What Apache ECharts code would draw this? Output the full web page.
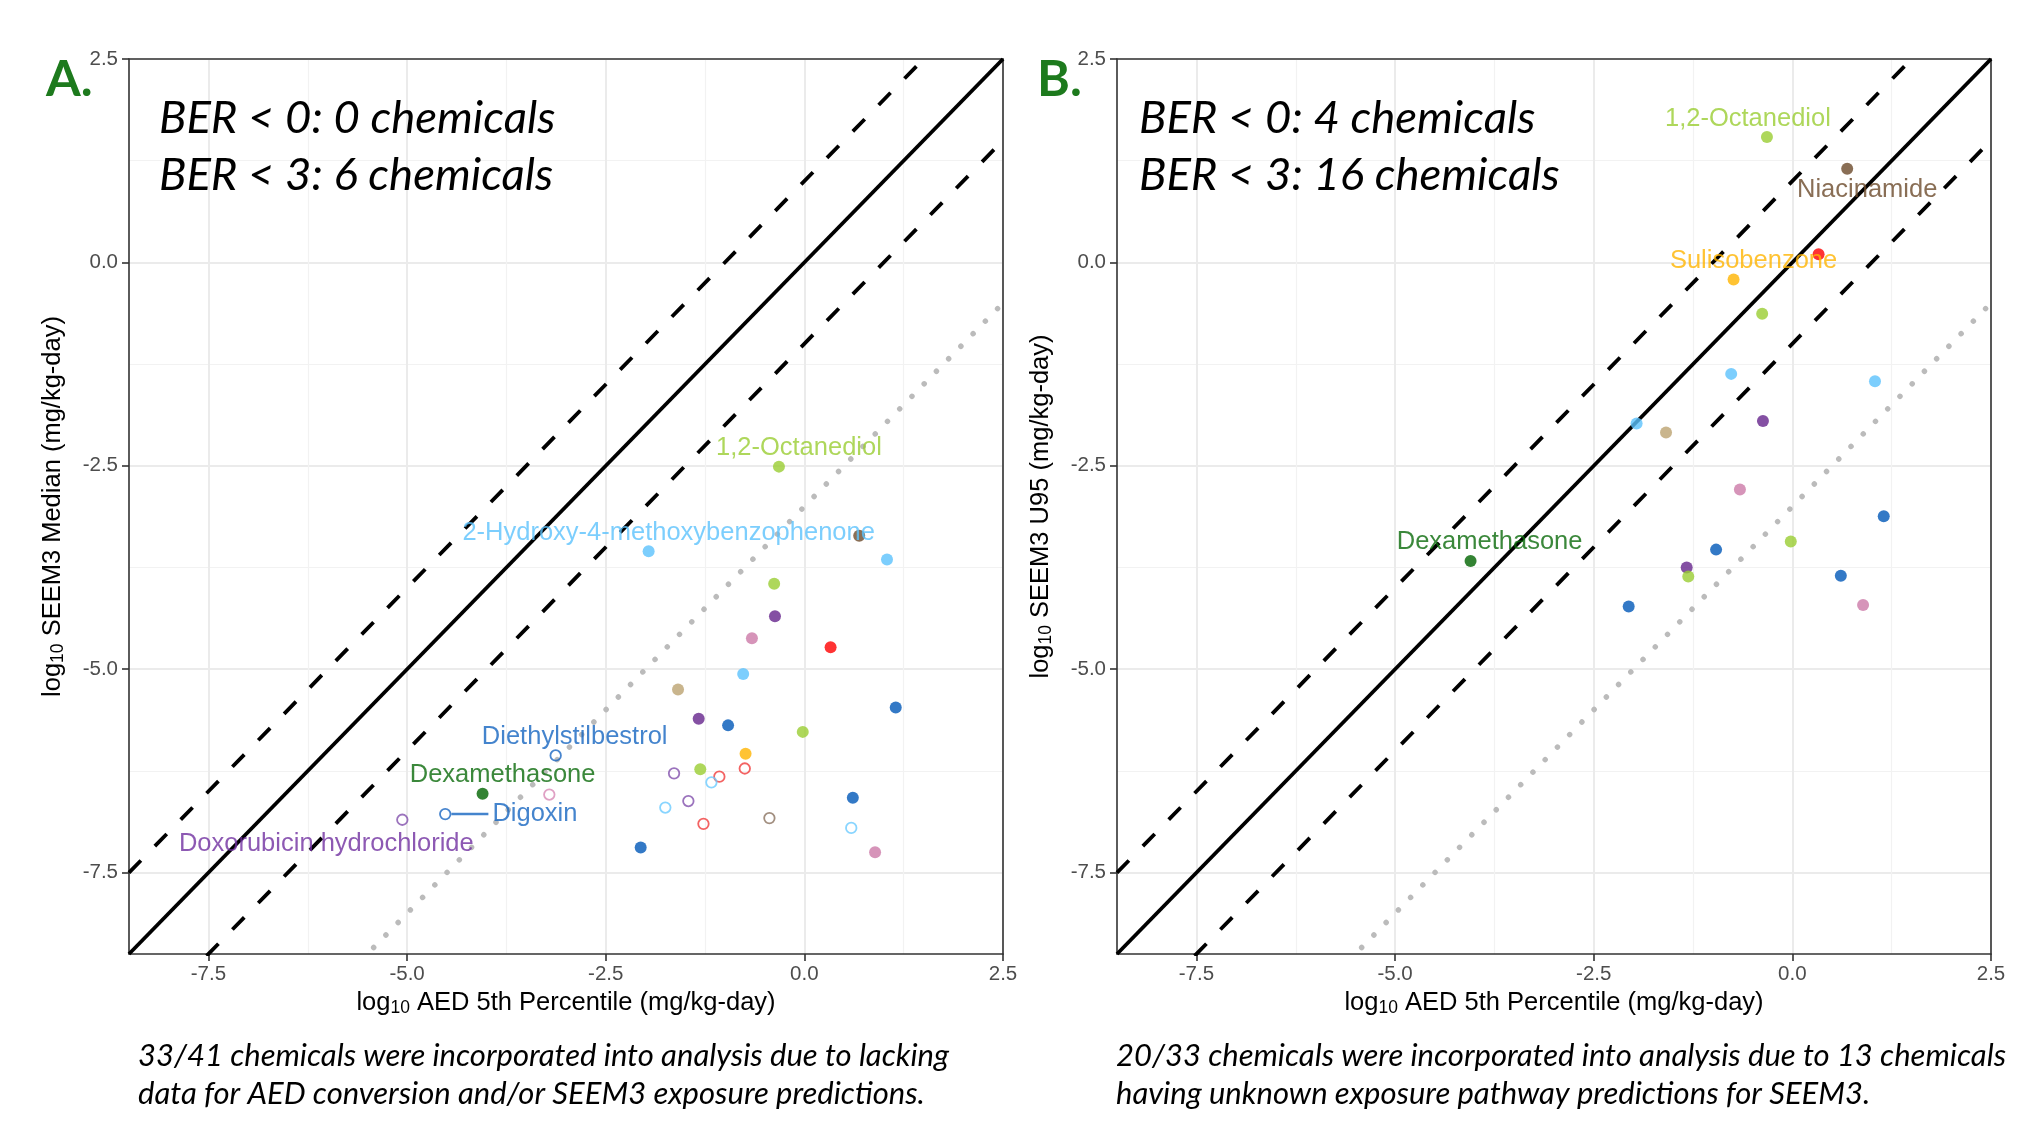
<!DOCTYPE html>
<html>
<head>
<meta charset="utf-8">
<script src="https://cdn.jsdelivr.net/npm/echarts@6/dist/echarts.min.js"></script>
<style>
html,body{margin:0;padding:0;background:#ffffff;}
#chart{width:2030px;height:1121px;}
</style>
</head>
<body>
<div id="chart"></div>
<script>
// ---------------- DATA ----------------
// Chemical names ('' = not labelled in the figure)
const chemNames = [
  '1,2-Octanediol', '2-Hydroxy-4-methoxybenzophenone', 'Niacinamide', '', '', '', '', '', '', '',
  '', '', '', '', 'Sulisobenzone', 'Diethylstilbestrol', '', '', '', '',
  '', 'Dexamethasone', '', '', '', '', 'Digoxin', '', 'Doxorubicin hydrochloride', '',
  '', '', ''
];
// log10 AED 5th percentile (mg/kg-day)
const aed5th = [
  -0.32, -1.96, 0.69, 1.04, -0.38, -0.37, -0.66, 0.33, -0.77, -1.59,
  1.15, -1.33, -0.96, -0.02, -0.74, -3.13, -0.75, -1.31, -1.64, -1.07,
  -1.17, -4.05, -3.21, 0.61, -1.46, -1.75, -4.52, -0.44, -5.06, -1.27,
  0.59, -2.06, 0.89
];
// log10 SEEM3 median (mg/kg-day)  -> panel A
const seem3Median = [
  -2.51, -3.55, -3.36, -3.65, -3.95, -4.35, -4.62, -4.73, -5.06, -5.25,
  -5.47, -5.61, -5.69, -5.77, -6.04, -6.06, -6.22, -6.23, -6.28, -6.32,
  -6.39, -6.53, -6.54, -6.58, -6.62, -6.70, -6.78, -6.83, -6.85, -6.90,
  -6.95, -7.19, -7.25
];
// log10 SEEM3 U95 (mg/kg-day) -> panel B (null = unknown exposure pathway)
const seem3U95 = [
  1.54, -1.98, 1.15, -1.46, -0.63, -1.95, -2.79, 0.10, -1.37, -2.09,
  -3.12, -3.75, -3.53, -3.43, -0.21, null, null, -3.86, null, null,
  null, -3.67, null, -3.85, null, null, null, null, null, null,
  null, -4.23, -4.21
];
// chemical group (colour key)
const chemGroup = [
  'g1', 'g2', 'g3', 'g2', 'g1', 'g4', 'g5', 'g6', 'g2', 'g7',
  'g8', 'g4', 'g8', 'g1', 'g9', 'g8', 'g6', 'g1', 'g4', 'g6',
  'g2', 'g10', 'g5', 'g8', 'g4', 'g2', 'g8', 'g3', 'g4', 'g6',
  'g2', 'g8', 'g5'
];
const tickValues = [-7.5, -5.0, -2.5, 0.0, 2.5];
const minorTickValues = [-6.25, -3.75, -1.25, 1.25];
const axisRange = [-8.5, 2.5];
// reference lines  y = x + offset
const refOffsets = [0, 1, -1, -3];
const refKinds = ['solid', 'dashed', 'dashed', 'dotted'];
const labelledA = ['1,2-Octanediol', '2-Hydroxy-4-methoxybenzophenone', 'Diethylstilbestrol', 'Dexamethasone', 'Digoxin', 'Doxorubicin hydrochloride'];
const labelledB = ['1,2-Octanediol', 'Niacinamide', 'Sulisobenzone', 'Dexamethasone'];
const berTextA = ['BER < 0: 0 chemicals', 'BER < 3: 6 chemicals'];
const berTextB = ['BER < 0: 4 chemicals', 'BER < 3: 16 chemicals'];
const captionA = ['33/41 chemicals were incorporated into analysis due to lacking', 'data for AED conversion and/or SEEM3 exposure predictions.'];
const captionB = ['20/33 chemicals were incorporated into analysis due to 13 chemicals', 'having unknown exposure pathway predictions for SEEM3.'];

// ---------------- STYLE ----------------
const palette = {
  g1: '#9ACD32', g2: '#5BC2FD', g3: '#6B4A2B', g4: '#65248C', g5: '#CC79A7',
  g6: '#FF0000', g7: '#BCA271', g8: '#0058B8', g9: '#FFB400', g10: '#006400'
};
const hollowColor = { g8: '#1A66C2', g3: '#8B7360', g4: '#8250AC', g5: '#D88AB5', g6: '#F03C3C', g2: '#6CCBFF' };
const labelOffsetA = {
  '1,2-Octanediol': [20, -19],
  '2-Hydroxy-4-methoxybenzophenone': [20, -18.5],
  'Diethylstilbestrol': [19, -19],
  'Dexamethasone': [20, -19],
  'Doxorubicin hydrochloride': [-76, 24]
};
const labelOffsetB = {
  '1,2-Octanediol': [-19, -18.5],
  'Niacinamide': [20, 21],
  'Sulisobenzone': [20, -19],
  'Dexamethasone': [19, -19]
};
const labelColor = { g8: '#1565C0', g4: '#7030A0', g10: '#0A6A0A' };
const FONT = '"Liberation Sans", Arial, sans-serif';
const LABEL_SIZE = 25.5;
const gridBox = [
  { left: 129, top: 59, width: 874, height: 895 },
  { left: 1117, top: 59, width: 874, height: 895 }
];

const richTitle = {
  n: { fontSize: 25.5, fontFamily: FONT, color: '#000' },
  s: { fontSize: 17.5, fontFamily: FONT, color: '#000', padding: [10, 0, 0, 0] }
};

function majorX(gi) {
  return {
    gridIndex: gi, type: 'value', min: axisRange[0], max: axisRange[1], position: 'bottom',
    name: '{n|log}{s|10}{n| AED 5th Percentile (mg/kg-day)}',
    nameLocation: 'middle', nameGap: 32,
    nameTextStyle: { rich: richTitle },
    axisLine: { show: true, onZero: false, lineStyle: { color: '#333333', width: 1.6 } },
    axisTick: { show: true, length: 7, customValues: tickValues, lineStyle: { color: '#333333', width: 1.6 } },
    axisLabel: { customValues: tickValues, formatter: v => v.toFixed(1), color: '#4D4D4D', fontSize: 20.5, fontFamily: FONT, margin: 10 },
    splitLine: { show: true, lineStyle: { color: '#EBEBEB', width: 2 } }
  };
}
function minorX(gi) {
  return {
    gridIndex: gi, type: 'value', min: axisRange[0], max: axisRange[1], position: 'top',
    axisLine: { show: true, onZero: false, lineStyle: { color: '#333333', width: 1.6 } },
    axisTick: { show: false, customValues: minorTickValues },
    axisLabel: { show: false, customValues: minorTickValues },
    splitLine: { show: true, lineStyle: { color: '#F2F2F2', width: 1.2 } }
  };
}
function majorY(gi, title) {
  return {
    gridIndex: gi, type: 'value', min: axisRange[0], max: axisRange[1], position: 'left',
    name: title, nameLocation: 'middle', nameGap: 62, nameRotate: 90,
    nameTextStyle: { rich: richTitle },
    axisLine: { show: true, onZero: false, lineStyle: { color: '#333333', width: 1.6 } },
    axisTick: { show: true, length: 7, customValues: tickValues, lineStyle: { color: '#333333', width: 1.6 } },
    axisLabel: { customValues: tickValues, formatter: v => v.toFixed(1), color: '#4D4D4D', fontSize: 20.5, fontFamily: FONT, margin: 11 },
    splitLine: { show: true, lineStyle: { color: '#EBEBEB', width: 2 } }
  };
}
function minorY(gi) {
  return {
    gridIndex: gi, type: 'value', min: axisRange[0], max: axisRange[1], position: 'right',
    axisLine: { show: true, onZero: false, lineStyle: { color: '#333333', width: 1.6 } },
    axisTick: { show: false, customValues: minorTickValues },
    axisLabel: { show: false, customValues: minorTickValues },
    splitLine: { show: true, lineStyle: { color: '#F2F2F2', width: 1.2 } }
  };
}

const refStyle = {
  solid: { color: '#000000', width: 3.8, type: 'solid' },
  dashed: { color: '#000000', width: 3.8, type: [17, 20] },
  dotted: { color: '#BBBBBB', width: 5.5, type: [0.01, 17.5], cap: 'round' }
};

function refSeries(gi) {
  return refOffsets.map((off, k) => ({
    type: 'line', xAxisIndex: gi * 2, yAxisIndex: gi * 2, silent: true, clip: true,
    showSymbol: false, symbol: 'none', z: refKinds[k] === 'dotted' ? 1 : 2,
    data: [[axisRange[0], axisRange[0] + off], [axisRange[1], axisRange[1] + off]],
    lineStyle: refStyle[refKinds[k]]
  }));
}

function pointSeries(gi, yVals, labelled, offsets, markHollow) {
  const data = [];
  for (let i = 0; i < chemNames.length; i++) {
    const y = yVals[i];
    if (y === null || y === undefined) continue;
    const g = chemGroup[i];
    const hollow = markHollow && seem3U95[i] === null;
    const col = palette[g];
    const item = { value: [aed5th[i], y], name: chemNames[i] };
    if (hollow) {
      item.symbolSize = 10.5;
      item.itemStyle = { color: 'rgba(255,255,255,0)', borderColor: hollowColor[g] || col, borderWidth: 1.8 };
    } else {
      item.symbolSize = 12;
      item.itemStyle = { color: col, borderWidth: 0 };
    }
    const nm = chemNames[i];
    const lc = labelColor[g] || col;
    if (nm && labelled.indexOf(nm) >= 0) {
      if (nm === 'Digoxin' && gi === 0) {
        item.label = {
          show: true, position: 'right', distance: 0,
          formatter: '{ln| }{t|' + nm + '}',
          rich: {
            ln: { width: 37, height: 2.4, backgroundColor: lc, fontSize: 2 },
            t: { fontSize: LABEL_SIZE, fontFamily: FONT, color: lc, padding: [0, 0, 0, 4] }
          }
        };
      } else {
        item.label = {
          show: true, position: 'inside', offset: offsets[nm],
          formatter: nm, color: lc, fontSize: LABEL_SIZE, fontFamily: FONT
        };
      }
    }
    data.push(item);
  }
  return {
    type: 'scatter', xAxisIndex: gi * 2, yAxisIndex: gi * 2, z: 5,
    symbol: 'circle', data: data, emphasis: { disabled: true },
    label: { show: false }
  };
}

function textEl(txt, x, y, font, fill) {
  return { type: 'text', x: x, y: y, z: 100, style: { text: txt, font: font, fill: fill, align: 'left', verticalAlign: 'middle' } };
}

const graphics = [
  textEl('A.', 46, 80, 'bold 50px Lato', '#1D7A1D'),
  textEl('B.', 1037, 80, 'bold 50px Lato', '#1D7A1D'),
  textEl(berTextA[0], 159, 118, 'italic 45.5px Lato', '#000'),
  textEl(berTextA[1], 159, 175, 'italic 45.5px Lato', '#000'),
  textEl(berTextB[0], 1139, 118, 'italic 45.5px Lato', '#000'),
  textEl(berTextB[1], 1139, 175, 'italic 45.5px Lato', '#000'),
  textEl(captionA[0], 138, 1056, 'italic 31px Lato', '#000'),
  textEl(captionA[1], 138, 1094, 'italic 31px Lato', '#000'),
  textEl(captionB[0], 1116, 1056, 'italic 31px Lato', '#000'),
  textEl(captionB[1], 1116, 1094, 'italic 31px Lato', '#000')
];

const option = {
  animation: false,
  backgroundColor: '#ffffff',
  grid: gridBox.map(b => Object.assign({ show: false, containLabel: false }, b)),
  xAxis: [majorX(0), minorX(0), majorX(1), minorX(1)],
  yAxis: [
    majorY(0, '{n|log}{s|10}{n| SEEM3 Median (mg/kg-day)}'), minorY(0),
    majorY(1, '{n|log}{s|10}{n| SEEM3 U95 (mg/kg-day)}'), minorY(1)
  ],
  series: [].concat(
    refSeries(0), refSeries(1),
    [pointSeries(0, seem3Median, labelledA, labelOffsetA, true),
     pointSeries(1, seem3U95, labelledB, labelOffsetB, false)]
  ),
  graphic: graphics
};

const chart = echarts.init(document.getElementById('chart'), null, { renderer: 'canvas', width: 2030, height: 1121 });
chart.setOption(option);
</script>
</body>
</html>
